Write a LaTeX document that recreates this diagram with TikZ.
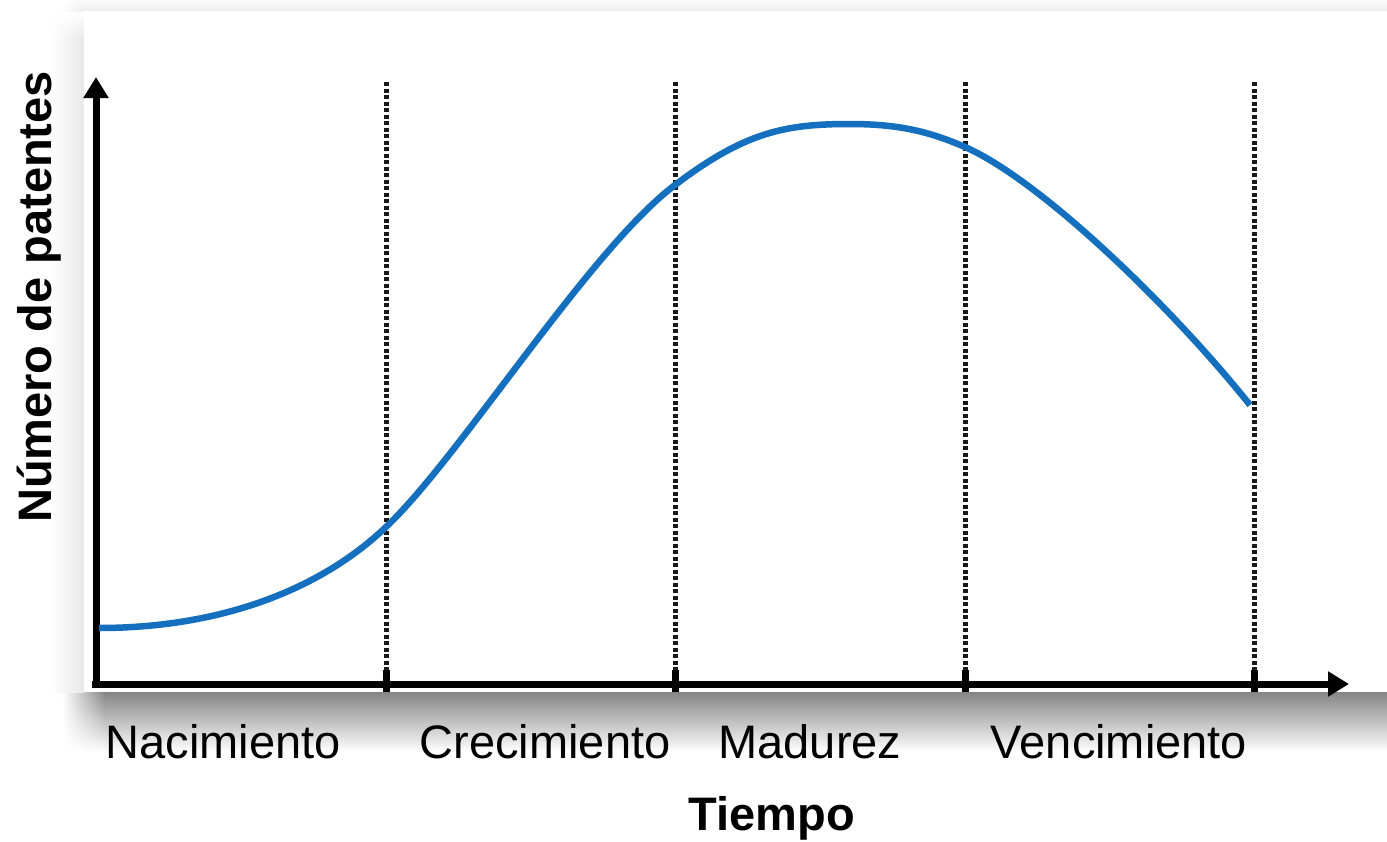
\documentclass[tikz,border=0pt]{standalone}
\usepackage{fontspec}
\setmainfont{Liberation Sans}
\usetikzlibrary{arrows.meta,fadings}
\definecolor{curveblue}{RGB}{20,112,190}
\begin{document}
\begin{tikzpicture}[x=1pt,y=-1pt,
  lbl/.style={font=\fontsize{47}{56}\selectfont, anchor=base, inner sep=0pt},
  ttl/.style={font=\fontsize{47}{56}\selectfont\bfseries, anchor=base, inner sep=0pt},
  axisline/.style={line width=7pt, -{Triangle[length=21pt,width=24pt]}},
  guide/.style={line width=5pt, black!90, dash pattern=on 4pt off 2.5pt},
  tickmark/.style={line width=7pt},
  curve/.style={line width=6.5pt, curveblue}]
\useasboundingbox (0,0) rectangle (1387,841);
% shadows
\shade[top color=black!48, middle color=black!18, bottom color=white] (105,692) rectangle (1387,752);
\shade[top color=black!48, middle color=black!18, bottom color=white, path fading=west] (62,692) rectangle (105,752);
\shade[left color=white, right color=black!9] (50,40) rectangle (84,692);
\shade[left color=white, right color=black!9, path fading=north] (50,11) rectangle (84,40);
\shade[top color=black!2, bottom color=black!7] (84,0) rectangle (1387,11);
\shade[top color=black!2, bottom color=black!7, path fading=west] (60,0) rectangle (84,11);
% panel
\fill[white] (84,11) rectangle (1387,692);
% coordinates
\coordinate (ybot) at (96,688);
\coordinate (ytop) at (96,77);
\coordinate (xl) at (92,684);
\coordinate (xr) at (1349,684);
\foreach \n/\x in {a/386,b/675,c/965,d/1254}{
  \coordinate (\n top) at (\x,82);
  \coordinate (\n bot) at (\x,670);
  \coordinate (\n t1) at (\x,670);
  \coordinate (\n t2) at (\x,692);
}
% dotted guides
\foreach \n in {a,b,c,d}{
  \draw[guide] (\n top) -- (\n bot);
  \draw[tickmark] (\n t1) -- (\n t2);
}
% axes
\draw[axisline] (ybot) -- (ytop);
\draw[axisline] (xl) -- (xr);
% curve
\coordinate (c0) at (99,628);
\coordinate (c1) at (386,527);
\coordinate (c2) at (675,185);
\coordinate (c3) at (850,124);
\coordinate (c4) at (965,147);
\coordinate (c5) at (1250,405);
\draw[curve] (c0) .. controls (220,628) and (320,590) .. (c1)
  .. controls (460,457) and (590,249) .. (c2)
  .. controls (745,132) and (785,124) .. (c3)
  .. controls (900,124) and (930,132) .. (c4)
  .. controls (1040,180) and (1170,305) .. (c5);
% labels
\node[lbl] (n1) at (223,758) {Nacimiento};
\node[lbl] (n2) at (545,758) {Crecimiento};
\node[lbl] (n3) at (810,758) {Madurez};
\node[lbl] (n4) at (1119,758) {Vencimiento};
\node[ttl] (tx) at (772,830) {Tiempo};
\node[ttl, rotate=90] (ty) at (51,297) {Número de patentes};
\end{tikzpicture}
\end{document}
